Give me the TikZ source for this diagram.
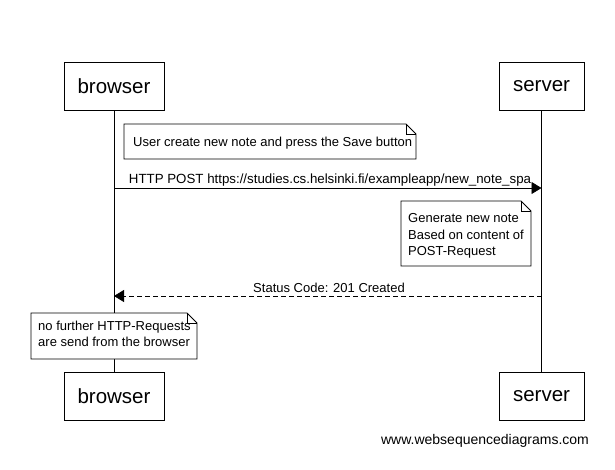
\documentclass[tikz,border=0pt]{standalone}
\usepackage{fontspec}
\setmainfont{Liberation Sans}
\usetikzlibrary{arrows.meta}
\begin{document}
\begin{tikzpicture}[x=1pt,y=-1pt,
  actor/.style={draw,line width=1pt,minimum width=#1,minimum height=48pt,inner sep=0pt,font=\fontsize{20.5}{24}\selectfont},
  notetext/.style={inner sep=0pt,align=left,font=\fontsize{13}{16.3}\selectfont,anchor=north west},
  lbl/.style={font=\fontsize{13}{15}\selectfont,inner sep=0pt},
  life/.style={line width=0.8pt},
  msg/.style={line width=0.8pt,-{Triangle[length=10pt,width=12pt]}},
  notebox/.style={line width=0.8pt,fill=white}
]
\useasboundingbox (0,0) rectangle (615,469);
% actors
\node[actor=100pt] (b1) at (114,86) {\raisebox{-2pt}{browser}};
\node[actor=100pt] (b2) at (114,396) {\raisebox{-2pt}{browser}};
\node[actor=85pt] (s1) at (541.5,86) {\raisebox{-2pt}{server}};
\node[actor=85pt] (s2) at (541.5,396) {\raisebox{-2pt}{server}};
\draw[life] (b1.south) -- (b2.north);
\draw[life] (s1.south) -- (s2.north);
% note 1
\draw[notebox] (124,124) -- (406,124) -- (416,134) -- (416,159) -- (124,159) -- cycle;
\draw[line width=0.6pt] (406,124) -- (406,134) -- (416,134);
\node[notetext] (n1) at (133,137) {User create new note and press the Save button};
% message 1
\coordinate (m1s) at (b1.south |- 0,188);
\coordinate (m1e) at (s1.south |- 0,188);
\draw[msg] (m1s) -- (m1e);
\node[lbl,anchor=base,font=\fontsize{13.3}{15}\selectfont] (l1) at (330,183) {HTTP POST https://studies.cs.helsinki.fi/exampleapp/new\_note\_spa};
% note 2
\draw[notebox] (401,201) -- (521,201) -- (531,211) -- (531,266) -- (401,266) -- cycle;
\draw[line width=0.6pt] (521,201) -- (521,211) -- (531,211);
\node[notetext] (n2) at (408,213.5) {Generate new note\\Based on content of\\POST-Request};
% message 2
\coordinate (m2s) at (s1.south |- 0,296);
\coordinate (m2e) at (b1.south |- 0,296);
\draw[msg,dash pattern=on 5pt off 3pt] (m2s) -- (m2e);
\node[lbl,anchor=base] (l2) at (329,292) {Status Code: 201 Created};
% note 3
\draw[notebox] (31,313) -- (187,313) -- (197,323) -- (197,359) -- (31,359) -- cycle;
\draw[line width=0.6pt] (187,313) -- (187,323) -- (197,323);
\node[notetext] (n3) at (38,321) {no further HTTP-Requests\\are send from the browser};
% footer
\node[inner sep=0pt,anchor=base,font=\fontsize{14}{16}\selectfont] (ft) at (485,444) {www.websequencediagrams.com};
\end{tikzpicture}
\end{document}
